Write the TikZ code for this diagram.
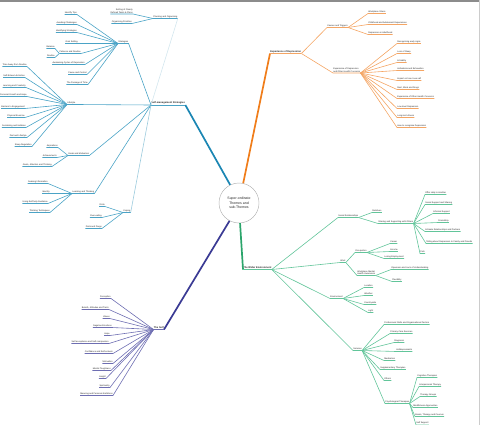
\documentclass[tikz,border=0pt]{standalone}
\usepackage{fontspec}
\setmainfont{Liberation Sans}
\usepackage{tikz}
\usetikzlibrary{positioning}

\definecolor{azul}{HTML}{1B86B3}
\definecolor{azulclaro}{HTML}{4AA3C6}
\definecolor{azulmedio}{HTML}{9CCBDD}
\definecolor{azulpalido}{HTML}{D3E6EE}
\definecolor{laranja}{HTML}{F07D1A}
\definecolor{laranjaclaro}{HTML}{F4A564}
\definecolor{verde}{HTML}{2BA56B}
\definecolor{verdeclaro}{HTML}{62C59A}
\definecolor{roxo}{HTML}{3A3A94}
\definecolor{roxoclaro}{HTML}{6E6EB2}

\begin{document}
\begin{tikzpicture}[
		x=2pt, y=-2pt,
		font=\fontsize{4.4}{5.2}\selectfont,
		folha/.style={inner xsep=0.5pt, inner ysep=0.9pt, text=black!85},
		topo/.style={folha, font=\bfseries\fontsize{5}{6}\selectfont},
		centro/.style={circle, draw=black!30, line width=0.9pt, minimum size=80pt, inner sep=0pt, align=center, font=\fontsize{7}{8.6}\selectfont, text=black!85},
		raz/.style={line width=1.2pt},
		tronco/.style={line width=3.4pt},
		ramoazul/.style={raz, draw=azulclaro},
		ramolar/.style={raz, draw=laranjaclaro},
		ramoverde/.style={raz, draw=verdeclaro},
		ramoroxo/.style={raz, draw=roxoclaro}
	]

	\useasboundingbox (0,0) rectangle (480,425);
	\clip (0,0) rectangle (480,425);
	\fill[black!45] (0,0) rectangle (480,1.6);
	\draw[black!20, line width=1.2pt] (479.6,0) -- (479.6,425);

	% centro e temas principais
	\node[centro] (nucleo) at (239,203) {Super-ordinate\\Themes and\\sub-Themes};
	\node[topo, anchor=south west] (gestao) at (151,105) {Self-management Strategies};
	\node[topo, anchor=south west] (exper) at (270,53.5) {Experience of Depression};
	\node[topo, anchor=south west] (amb) at (243,269.5) {The Wider Environment};
	\node[topo, anchor=south east] (eu) at (164,329.5) {The Self};

	\draw[tronco, azul] (nucleo.116) -- (gestao.south east);
	\draw[tronco, laranja] (nucleo.78) -- (exper.south west);
	\draw[tronco, verde] (nucleo.-87) -- (amb.south west);
	\draw[tronco, roxo] (nucleo.-118) -- (eu.south east);
	\draw[ramoazul] (gestao.south west) -- (gestao.south east);
	\draw[ramolar] (exper.south west) -- (exper.south east);
	\draw[ramoverde] (amb.south west) -- (amb.south east);
	\draw[ramoroxo] (eu.south west) -- (eu.south east);

	% self-management strategies
	\node[folha, anchor=south west] (estrat) at (118,43.5) {Strategies};
	\node[folha, anchor=south west] (plano) at (153,18.5) {Planning and Organising};
	\node[folha, anchor=south west] (estilo) at (67,104.5) {Lifestyle};
	\node[folha, anchor=south west] (metas) at (68,155.5) {Goals and Motivation};
	\node[folha, anchor=south west] (aprend) at (72,193.5) {Learning and Thinking};
	\node[folha, anchor=south west] (coping) at (123,212.5) {Coping};

	\draw[ramoazul] (estrat.south west) -- (estrat.south east) -- (gestao.south west);
	\draw[ramoazul] (plano.south west) -- (plano.south east);
	\draw[raz, azulpalido] (plano.south east) -- (gestao.south west);
	\draw[ramoazul] (estilo.south west) -- (estilo.south east) -- (gestao.south west);
	\draw[ramoazul] (metas.south west) -- (metas.south east) -- (gestao.south west);
	\draw[ramoazul] (aprend.south west) -- (aprend.south east) -- (gestao.south west);
	\draw[ramoazul] (coping.south west) -- (coping.south east);
	\draw[raz, azulmedio] (coping.south east) -- (gestao.south west);

	\node[folha, anchor=south east, align=right] (defin) at (133,14) {Setting of Clearly\\Defined Tasks \& Plans};
	\node[folha, anchor=south east] (prior) at (132,23.5) {Organising Priorities};
	\draw[ramoazul] (plano.south west) -- (defin.south east) -- (defin.south west);
	\draw[ramoazul] (plano.south west) -- (prior.south east) -- (prior.south west);

	\node[folha, anchor=south east] (tips) at (77,14.5) {Identify Tips};
	\node[folha, anchor=south east] (avoid) at (77,24.5) {Avoiding Challenges};
	\node[folha, anchor=south east] (ident) at (77,32.5) {Identifying Strategies};
	\node[folha, anchor=south east] (goal) at (78,43.5) {Goal Setting};
	\node[folha, anchor=south east] (pacien) at (81,53.5) {Patience and Routine};
	\node[folha, anchor=south east] (balan) at (55,48.5) {Balance};
	\node[folha, anchor=south east] (rotina) at (55,57.5) {Routine};
	\node[folha, anchor=south east] (ciclos) at (85,64.5) {Awakening Cycles of Depression};
	\node[folha, anchor=south east] (pausa) at (87,74.5) {Pause and Control};
	\node[folha, anchor=south east] (tempo) at (88,84.5) {The Passage of Time};
	\draw[ramoazul] (estrat.south west) -- (tips.south east) -- (tips.south west);
	\draw[ramoazul] (estrat.south west) -- (avoid.south east) -- (avoid.south west);
	\draw[ramoazul] (estrat.south west) -- (ident.south east) -- (ident.south west);
	\draw[ramoazul] (estrat.south west) -- (goal.south east) -- (goal.south west);
	\draw[ramoazul] (estrat.south west) -- (pacien.south east) -- (pacien.south west);
	\draw[ramoazul] (pacien.south west) -- (balan.south east) -- (balan.south west);
	\draw[ramoazul] (pacien.south west) -- (rotina.south east) -- (rotina.south west);
	\draw[ramoazul] (estrat.south west) -- (ciclos.south east) -- (ciclos.south west);
	\draw[ramoazul] (estrat.south west) -- (pausa.south east) -- (pausa.south west);
	\draw[ramoazul] (estrat.south west) -- (tempo.south east) -- (tempo.south west);

	\node[folha, anchor=south east] (longe) at (27,66.5) {Time Away from Routine};
	\node[folha, anchor=south east] (estima) at (25,77.5) {Self-Esteem Activities};
	\node[folha, anchor=south east] (criat) at (26,87.5) {Learning and Creativity};
	\node[folha, anchor=south east] (cresc) at (27,96.5) {Personal Growth and Hope};
	\node[folha, anchor=south east] (barr) at (25,108.5) {Barriers to Engagement};
	\node[folha, anchor=south east] (exerc) at (25,117.5) {Physical Exercise};
	\node[folha, anchor=south east] (social) at (26,127.5) {Socialising and Hobbies};
	\node[folha, anchor=south east] (dieta) at (27,137.5) {Diet and Lifestyle};
	\node[folha, anchor=south east] (sono) at (32,146.5) {Sleep Regulation};
	\draw[ramoazul] (estilo.south west) -- (longe.south east) -- (longe.south west);
	\draw[ramoazul] (estilo.south west) -- (estima.south east) -- (estima.south west);
	\draw[ramoazul] (estilo.south west) -- (criat.south east) -- (criat.south west);
	\draw[ramoazul] (estilo.south west) -- (cresc.south east) -- (cresc.south west);
	\draw[ramoazul] (estilo.south west) -- (barr.south east) -- (barr.south west);
	\draw[ramoazul] (estilo.south west) -- (exerc.south east) -- (exerc.south west);
	\draw[ramoazul] (estilo.south west) -- (social.south east) -- (social.south west);
	\draw[ramoazul] (estilo.south west) -- (dieta.south east) -- (dieta.south west);
	\draw[ramoazul] (estilo.south west) -- (sono.south east) -- (sono.south west);

	\node[folha, anchor=south east] (aspir) at (58,147.5) {Aspirations};
	\node[folha, anchor=south east] (conq) at (57,157.5) {Achievements};
	\node[folha, anchor=south east] (atenc) at (52,166.5) {Goals, Attention and Thinking};
	\draw[ramoazul] (metas.south west) -- (aspir.south east) -- (aspir.south west);
	\draw[ramoazul] (metas.south west) -- (conq.south east) -- (conq.south west);
	\draw[ramoazul] (metas.south west) -- (atenc.south east) -- (atenc.south west);

	\node[folha, anchor=south east] (busca) at (48,183.5) {Seeking Information};
	\node[folha, anchor=south east] (ident2) at (50,193.5) {Identity};
	\node[folha, anchor=south east] (guia) at (48,203.5) {Using Self-help Guidance};
	\node[folha, anchor=south east] (tecn) at (50,212.5) {Thinking Techniques};
	\draw[ramoazul] (aprend.south west) -- (busca.south east) -- (busca.south west);
	\draw[ramoazul] (aprend.south west) -- (ident2.south east) -- (ident2.south west);
	\draw[ramoazul] (aprend.south west) -- (guia.south east) -- (guia.south west);
	\draw[ramoazul] (aprend.south west) -- (tecn.south east) -- (tecn.south west);

	\node[folha, anchor=south east] (bebida) at (105,206.5) {Drink};
	\node[folha, anchor=south east] (comer) at (102,217.5) {Over-eating};
	\node[folha, anchor=south east] (drogas) at (102,228.5) {Drink and Drugs};
	\draw[ramoazul] (coping.south west) -- (bebida.south east) -- (bebida.south west);
	\draw[ramoazul] (coping.south west) -- (comer.south east) -- (comer.south west);
	\draw[ramoazul] (coping.south west) -- (drogas.south east) -- (drogas.south west);

	% experience of depression
	\node[folha, anchor=south west] (causas) at (327,27.5) {Causes and Triggers};
	\node[folha, anchor=south west, align=left] (outras) at (333,73) {Experience of Depression\\and Other Health Concerns};
	\draw[ramolar] (exper.south east) -- (causas.south west) -- (causas.south east);
	\draw[ramolar] (exper.south east) -- (outras.south west) -- (outras.south east);

	\node[folha, anchor=south west] (stress) at (368,13.5) {Workplace Stress};
	\node[folha, anchor=south west] (infan) at (368,24.5) {Childhood and Adolescent Experiences};
	\node[folha, anchor=south west] (adulto) at (368,34.5) {Depression in Adulthood};
	\draw[ramolar] (causas.south east) -- (stress.south west) -- (stress.south east);
	\draw[ramolar] (causas.south east) -- (infan.south west) -- (infan.south east);
	\draw[ramolar] (causas.south east) -- (adulto.south west) -- (adulto.south east);

	\node[folha, anchor=south west] (sinais) at (397,43.5) {Recognising early signs};
	\node[folha, anchor=south west] (insonia) at (397,53.5) {Loss of Sleep};
	\node[folha, anchor=south west] (irrit) at (397,62.5) {Irritability};
	\node[folha, anchor=south west] (anhed) at (397,70.5) {Anhedonia and Exhaustion};
	\node[folha, anchor=south west] (impac) at (397,80.5) {Impact on how I see self};
	\node[folha, anchor=south west] (resto) at (397,89.5) {Rest, Work and Drugs};
	\node[folha, anchor=south west] (saude) at (397,98.5) {Experience of Other Health Concerns};
	\node[folha, anchor=south west] (baixo) at (397,108.5) {Low-level Depression};
	\node[folha, anchor=south west] (cronic) at (397,117.5) {Long-term illness};
	\node[folha, anchor=south west] (recon) at (397,127.5) {How to recognise Depression};
	\draw[ramolar] (outras.south east) -- (sinais.south west) -- (sinais.south east);
	\draw[ramolar] (outras.south east) -- (insonia.south west) -- (insonia.south east);
	\draw[ramolar] (outras.south east) -- (irrit.south west) -- (irrit.south east);
	\draw[ramolar] (outras.south east) -- (anhed.south west) -- (anhed.south east);
	\draw[ramolar] (outras.south east) -- (impac.south west) -- (impac.south east);
	\draw[ramolar] (outras.south east) -- (resto.south west) -- (resto.south east);
	\draw[ramolar] (outras.south east) -- (saude.south west) -- (saude.south east);
	\draw[ramolar] (outras.south east) -- (baixo.south west) -- (baixo.south east);
	\draw[ramolar] (outras.south east) -- (cronic.south west) -- (cronic.south east);
	\draw[ramolar] (outras.south east) -- (recon.south west) -- (recon.south east);

	% the wider environment
	\node[folha, anchor=south west] (relac) at (338,217.5) {Social Relationships};
	\node[folha, anchor=south west] (trab) at (340,262.5) {Work};
	\node[folha, anchor=south west] (meio) at (330,298.5) {Environment};
	\node[folha, anchor=south west] (serv) at (353,350.5) {Services};
	\draw[ramoverde] (amb.south east) -- (relac.south west) -- (relac.south east);
	\draw[ramoverde] (amb.south east) -- (trab.south west) -- (trab.south east);
	\draw[ramoverde] (amb.south east) -- (meio.south west) -- (meio.south east);
	\draw[ramoverde] (amb.south east) -- (serv.south west) -- (serv.south east);

	\node[folha, anchor=south west] (famil) at (372,212.5) {Relatives};
	\node[folha, anchor=south west] (partil) at (378,223.5) {Sharing and Supporting with Others};
	\draw[ramoverde] (relac.south east) -- (famil.south west) -- (famil.south east);
	\draw[ramoverde] (relac.south east) -- (partil.south west) -- (partil.south east);

	\node[folha, anchor=south west] (ajuda) at (425,194.5) {Offer Help to Another};
	\node[folha, anchor=south west] (apoio) at (425,204.5) {Social Support and Sharing};
	\node[folha, anchor=south west] (inform) at (433,213.5) {Informal Support};
	\node[folha, anchor=south west] (amigos) at (438,222.5) {Friendship};
	\node[folha, anchor=south west] (parce) at (425,231.5) {Intimate Relationships and Partners};
	\node[folha, anchor=south west] (contar) at (426,243.5) {Telling about Depression to Family and Friends};
	\node[folha, anchor=south west] (pets) at (420,253.5) {Pets};
	\draw[ramoverde] (partil.south east) -- (ajuda.south west) -- (ajuda.south east);
	\draw[ramoverde] (partil.south east) -- (apoio.south west) -- (apoio.south east);
	\draw[ramoverde] (partil.south east) -- (inform.south west) -- (inform.south east);
	\draw[ramoverde] (partil.south east) -- (amigos.south west) -- (amigos.south east);
	\draw[ramoverde] (partil.south east) -- (parce.south west) -- (parce.south east);
	\draw[ramoverde] (partil.south east) -- (contar.south west) -- (contar.south east);
	\draw[ramoverde] (partil.south east) -- (pets.south west) -- (pets.south east);

	\node[folha, anchor=south west] (ocup) at (355,252.5) {Occupation};
	\node[folha, anchor=south west, align=left] (consc) at (357,275.5) {Workplace Mental\\Health Awareness};
	\draw[ramoverde] (trab.south east) -- (ocup.south west) -- (ocup.south east);
	\draw[ramoverde] (trab.south east) -- (consc.south west) -- (consc.south east);
	\node[folha, anchor=south west] (carreira) at (390,243.5) {Career};
	\node[folha, anchor=south west] (renda) at (390,251.5) {Income};
	\node[folha, anchor=south west] (perda) at (384,258.5) {Losing Employment};
	\node[folha, anchor=south west] (abert) at (391,269.5) {Openness and Lack of Understanding};
	\node[folha, anchor=south west] (flex) at (392,281.5) {Flexibility};
	\draw[ramoverde] (ocup.south east) -- (carreira.south west) -- (carreira.south east);
	\draw[ramoverde] (ocup.south east) -- (renda.south west) -- (renda.south east);
	\draw[ramoverde] (ocup.south east) -- (perda.south west) -- (perda.south east);
	\draw[ramoverde] (consc.south east) -- (abert.south west) -- (abert.south east);
	\draw[ramoverde] (consc.south east) -- (flex.south west) -- (flex.south east);

	\node[folha, anchor=south west] (local) at (364,287.5) {Location};
	\node[folha, anchor=south west] (clima) at (364,295.5) {Weather};
	\node[folha, anchor=south west] (campo) at (364,304.5) {Countryside};
	\node[folha, anchor=south west] (luz) at (368,312.5) {Light};
	\draw[ramoverde] (meio.south east) -- (local.south west) -- (local.south east);
	\draw[ramoverde] (meio.south east) -- (clima.south west) -- (clima.south east);
	\draw[ramoverde] (meio.south east) -- (campo.south west) -- (campo.south east);
	\draw[ramoverde] (meio.south east) -- (luz.south west) -- (luz.south east);

	\node[folha, anchor=south west] (profis) at (384,324.5) {Professional Skills and Organisational Factors};
	\node[folha, anchor=south west] (prim) at (390,333.5) {Primary Care Services};
	\node[folha, anchor=south west] (diagn) at (394,342.5) {Diagnosis};
	\node[folha, anchor=south west] (antid) at (396,351.5) {Antidepressants};
	\node[folha, anchor=south west] (medic) at (384,360.5) {Medication};
	\node[folha, anchor=south west] (supl) at (380,369.5) {Supplementary Therapies};
	\node[folha, anchor=south west] (outros) at (384,380.5) {Others};
	\node[folha, anchor=south west] (psico) at (385,403.5) {Psychological Therapies};
	\draw[ramoverde] (serv.south east) -- (profis.south west) -- (profis.south east);
	\draw[ramoverde] (serv.south east) -- (prim.south west) -- (prim.south east);
	\draw[ramoverde] (serv.south east) -- (diagn.south west) -- (diagn.south east);
	\draw[ramoverde] (serv.south east) -- (antid.south west) -- (antid.south east);
	\draw[ramoverde] (serv.south east) -- (medic.south west) -- (medic.south east);
	\draw[ramoverde] (serv.south east) -- (supl.south west) -- (supl.south east);
	\draw[ramoverde] (serv.south east) -- (outros.south west) -- (outros.south east);
	\draw[ramoverde] (serv.south east) -- (psico.south west) -- (psico.south east);

	\node[folha, anchor=south west] (cogn) at (417,377.5) {Cognitive Therapies};
	\node[folha, anchor=south west] (interp) at (419,386.5) {Interpersonal Therapy};
	\node[folha, anchor=south west] (grupos) at (420,396.5) {Therapy Groups};
	\node[folha, anchor=south west] (mindf) at (413,407.5) {Mindfulness Approaches};
	\node[folha, anchor=south west] (livros) at (415,416.5) {Books, Therapy and Courses};
	\node[folha, anchor=south west] (autoaj) at (416,424.8) {Self Support};
	\draw[ramoverde] (psico.south east) -- (cogn.south west) -- (cogn.south east);
	\draw[ramoverde] (psico.south east) -- (interp.south west) -- (interp.south east);
	\draw[ramoverde] (psico.south east) -- (grupos.south west) -- (grupos.south east);
	\draw[ramoverde] (psico.south east) -- (mindf.south west) -- (mindf.south east);
	\draw[ramoverde] (psico.south east) -- (livros.south west) -- (livros.south east);
	\draw[ramoverde] (psico.south east) -- (autoaj.south west) -- (autoaj.south east);

	% the self
	\node[folha, anchor=south east] (percep) at (111,298.5) {Perception};
	\node[folha, anchor=south east] (crenca) at (109,309.5) {Beliefs, Attitudes and Traits};
	\node[folha, anchor=south east] (valor) at (110,318.5) {Values};
	\node[folha, anchor=south east] (emoc) at (112,327.5) {Negative Emotions};
	\node[folha, anchor=south east] (esper) at (110,335.5) {Hope};
	\node[folha, anchor=south east] (aceit) at (109,343.5) {Self-acceptance and Self-compassion};
	\node[folha, anchor=south east] (confi) at (113,353.5) {Confidence and Self-esteem};
	\node[folha, anchor=south east] (motiv) at (113,363.5) {Motivation};
	\node[folha, anchor=south east] (forca) at (111,370.5) {Mental Toughness};
	\node[folha, anchor=south east] (insight) at (106,378.5) {Insight};
	\node[folha, anchor=south east] (espir) at (110,387.5) {Spirituality};
	\node[folha, anchor=south east] (sentido) at (113,395.5) {Meaning and Personal Ambitions};
	\draw[ramoroxo] (eu.south west) -- (percep.south east) -- (percep.south west);
	\draw[ramoroxo] (eu.south west) -- (crenca.south east) -- (crenca.south west);
	\draw[ramoroxo] (eu.south west) -- (valor.south east) -- (valor.south west);
	\draw[ramoroxo] (eu.south west) -- (emoc.south east) -- (emoc.south west);
	\draw[ramoroxo] (eu.south west) -- (esper.south east) -- (esper.south west);
	\draw[ramoroxo] (eu.south west) -- (aceit.south east) -- (aceit.south west);
	\draw[ramoroxo] (eu.south west) -- (confi.south east) -- (confi.south west);
	\draw[ramoroxo] (eu.south west) -- (motiv.south east) -- (motiv.south west);
	\draw[ramoroxo] (eu.south west) -- (forca.south east) -- (forca.south west);
	\draw[ramoroxo] (eu.south west) -- (insight.south east) -- (insight.south west);
	\draw[ramoroxo] (eu.south west) -- (espir.south east) -- (espir.south west);
	\draw[ramoroxo] (eu.south west) -- (sentido.south east) -- (sentido.south west);
\end{tikzpicture}
\end{document}
